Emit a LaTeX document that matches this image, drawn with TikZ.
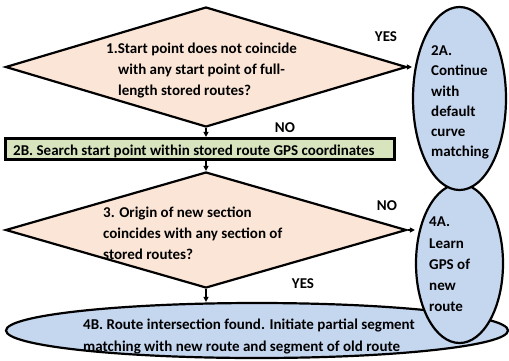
\documentclass[tikz,border=0pt]{standalone}
\usepackage{fontspec}
\setmainfont{Carlito}
\usetikzlibrary{shapes.geometric,arrows.meta}
\definecolor{peach}{HTML}{FBE5D6}
\definecolor{lblue}{HTML}{C5D6EF}
\definecolor{lgreen}{HTML}{D7E4BD}
\tikzset{
  shapeline/.style={draw=black,line width=2.2pt},
  decision/.style={shapeline,diamond,fill=peach,inner sep=0pt},
  oval/.style={shapeline,ellipse,fill=lblue,inner sep=0pt},
  procbox/.style={shapeline,rectangle,fill=lgreen,inner sep=0pt},
  txt/.style={font=\bfseries\fontsize{15}{21.2}\selectfont,align=left,inner sep=0pt,anchor=west},
  lbl/.style={font=\bfseries\fontsize{15}{16}\selectfont,inner sep=0pt},
  flow/.style={line width=1.3pt,-{Triangle[length=5pt,width=5pt]}}
}
\begin{document}
\begin{tikzpicture}[x=1pt,y=-1pt]
\useasboundingbox (0,0) rectangle (509,360);
% shapes
\node[decision,minimum width=401pt,minimum height=120pt] (d1) at (206,67) {};
\node[procbox,minimum width=390pt,minimum height=22pt] (r2b) at (200,149) {};
\draw[line width=0.8pt] ([shift={(2.6pt,-2.6pt)}]r2b.north west) rectangle ([shift={(-2.6pt,2.6pt)}]r2b.south east);
\node[decision,minimum width=401pt,minimum height=116pt] (d3) at (206,230) {};
\node[oval,minimum width=502pt,minimum height=55pt] (e4b) at (257,330.5) {};
\node[oval,minimum width=87pt,minimum height=159pt] (e4a) at (459.5,263.5) {};
\node[oval,minimum width=93pt,minimum height=183pt] (e2a) at (459.5,98.5) {};
% texts
\node[txt] (t1) at (106,70.5) {1.Start point does not coincide\\\hspace*{12pt}with any start point of full-\\\hspace*{12pt}length stored routes?};
\node[txt,font=\bfseries\fontsize{15}{16}\selectfont] (t2b) at (13,151.5) {2B. Search start point within stored route GPS coordinates};
\node[txt] (t3) at (103,233.5) {3. Origin of new section\\coincides with any section of\\stored routes?};
\node[txt,font=\bfseries\fontsize{15}{20.3}\selectfont] (t2a) at (431,102.5) {2A.\\Continue\\with\\default\\curve\\matching};
\node[txt] (t4a) at (429,264.5) {4A.\\Learn\\GPS of\\new\\route};
\node[txt] (t4b) at (83,336.5) {4B. Route intersection found. Initiate partial segment\\matching with new route and segment of old route};
% connectors
\coordinate (a2a) at (e2a.west |- d1.east);
\coordinate (a4a) at (e4a.west |- d3.east);
\coordinate (a2b) at (r2b.north -| d1.south);
\coordinate (s2b) at (r2b.south -| d3.north);
\coordinate (a4b) at (e4b.north -| d3.south);
\draw[flow] (d1.east) -- (a2a);
\draw[flow] (d1.south) -- (a2b);
\draw[flow] (s2b) -- (d3.north);
\draw[flow] (d3.east) -- (a4a);
\draw[flow] (d3.south) -- (a4b);
% labels
\node[lbl] (yes1) at (386,37) {YES};
\node[lbl] (no1) at (285,128) {NO};
\node[lbl] (no2) at (387,206) {NO};
\node[lbl] (yes2) at (303,284) {YES};
\end{tikzpicture}
\end{document}
